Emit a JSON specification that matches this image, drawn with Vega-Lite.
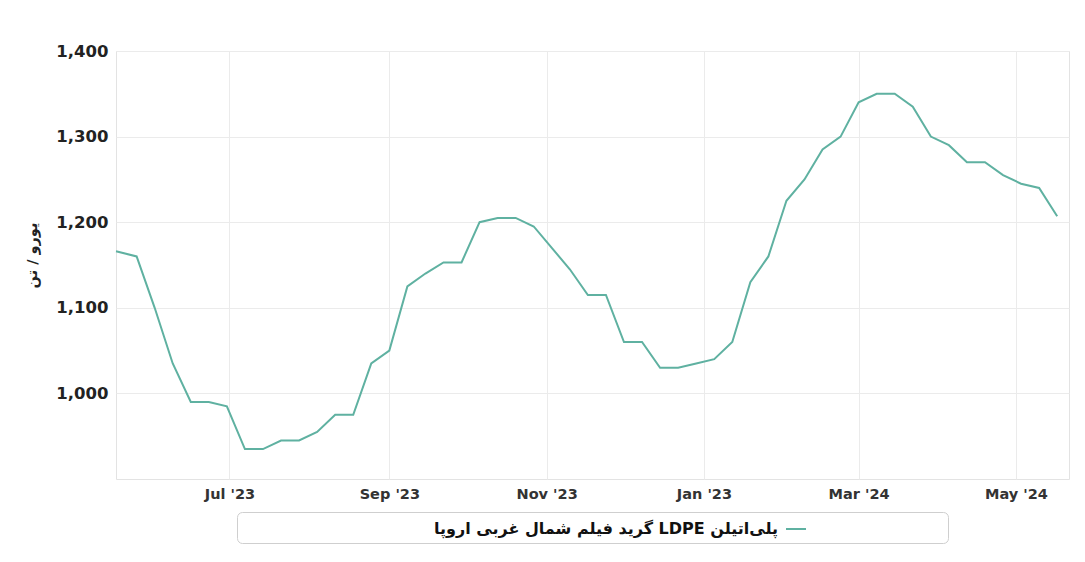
{
  "$schema": "https://vega.github.io/schema/vega-lite/v6.json",
  "width": 953,
  "height": 428,
  "autosize": {"type": "none"},
  "padding": {"left": 116, "top": 51, "right": 16, "bottom": 83},
  "background": "white",
  "data": {
    "values": [
      {"date": "2023-05-18", "price": 1166},
      {"date": "2023-05-26", "price": 1160},
      {"date": "2023-06-02", "price": 1100},
      {"date": "2023-06-09", "price": 1035},
      {"date": "2023-06-16", "price": 990},
      {"date": "2023-06-23", "price": 990},
      {"date": "2023-06-30", "price": 985},
      {"date": "2023-07-07", "price": 935},
      {"date": "2023-07-14", "price": 935},
      {"date": "2023-07-21", "price": 945},
      {"date": "2023-07-28", "price": 945},
      {"date": "2023-08-04", "price": 955},
      {"date": "2023-08-11", "price": 975},
      {"date": "2023-08-18", "price": 975},
      {"date": "2023-08-25", "price": 1035},
      {"date": "2023-09-01", "price": 1050},
      {"date": "2023-09-08", "price": 1125},
      {"date": "2023-09-15", "price": 1140},
      {"date": "2023-09-22", "price": 1153},
      {"date": "2023-09-29", "price": 1153},
      {"date": "2023-10-06", "price": 1200},
      {"date": "2023-10-13", "price": 1205},
      {"date": "2023-10-20", "price": 1205},
      {"date": "2023-10-27", "price": 1195},
      {"date": "2023-11-03", "price": 1170},
      {"date": "2023-11-10", "price": 1145},
      {"date": "2023-11-17", "price": 1115},
      {"date": "2023-11-24", "price": 1115},
      {"date": "2023-12-01", "price": 1060},
      {"date": "2023-12-08", "price": 1060},
      {"date": "2023-12-15", "price": 1030},
      {"date": "2023-12-22", "price": 1030},
      {"date": "2023-12-29", "price": 1035},
      {"date": "2024-01-05", "price": 1040},
      {"date": "2024-01-12", "price": 1060},
      {"date": "2024-01-19", "price": 1130},
      {"date": "2024-01-26", "price": 1160},
      {"date": "2024-02-02", "price": 1225},
      {"date": "2024-02-09", "price": 1250},
      {"date": "2024-02-16", "price": 1285},
      {"date": "2024-02-23", "price": 1300},
      {"date": "2024-03-01", "price": 1340},
      {"date": "2024-03-08", "price": 1350},
      {"date": "2024-03-15", "price": 1350},
      {"date": "2024-03-22", "price": 1335},
      {"date": "2024-03-29", "price": 1300},
      {"date": "2024-04-05", "price": 1290},
      {"date": "2024-04-12", "price": 1270},
      {"date": "2024-04-19", "price": 1270},
      {"date": "2024-04-26", "price": 1255},
      {"date": "2024-05-03", "price": 1245},
      {"date": "2024-05-10", "price": 1240},
      {"date": "2024-05-17", "price": 1207}
    ]
  },
  "mark": {"type": "line", "strokeWidth": 2},
  "encoding": {
    "x": {
      "field": "date",
      "type": "temporal",
      "scale": {
        "domain": [
          {"year": 2023, "month": 5, "date": 18, "utc": true},
          {"year": 2024, "month": 5, "date": 21, "hours": 14, "utc": true}
        ]
      },
      "axis": {
        "title": null,
        "tickCount": {"interval": "month", "step": 2},
        "labelExpr": "month(datum.value) == 0 ? \"Jan '23\" : timeFormat(datum.value, \"%b '%y\")",
        "labelFont": "DejaVu Sans",
        "labelFontSize": 14.5,
        "labelFontWeight": "bold",
        "labelColor": "#333333",
        "labelPadding": 8,
        "labelOverlap": false,
        "ticks": false,
        "domain": false,
        "gridColor": "#ebebeb"
      }
    },
    "y": {
      "field": "price",
      "type": "quantitative",
      "scale": {"domain": [900, 1400], "nice": false, "zero": false},
      "axis": {
        "values": [1000, 1100, 1200, 1300, 1400],
        "format": ",.0f",
        "labelFont": "DejaVu Sans",
        "labelFontSize": 16.5,
        "labelFontWeight": "bold",
        "labelColor": "#222222",
        "labelPadding": 8,
        "ticks": false,
        "domain": false,
        "gridColor": "#ebebeb",
        "title": "یورو / تن",
        "titleFont": "DejaVu Sans",
        "titleFontSize": 14.5,
        "titleFontWeight": "bold",
        "titleColor": "#222222",
        "titlePadding": 16,
        "titleY": 204
      }
    },
    "color": {
      "datum": "پلی‌اتیلن LDPE گرید فیلم شمال غربی اروپا",
      "scale": {"range": ["#5fb1a1"]},
      "legend": {
        "title": null,
        "orient": "none",
        "legendX": 121,
        "legendY": 461,
        "padding": 6,
        "strokeColor": "#cfcfcf",
        "fillColor": "white",
        "cornerRadius": 5,
        "symbolType": "M-1,0H1M14.2,0",
        "symbolSize": 400,
        "symbolStrokeWidth": 2,
        "symbolOffset": 542,
        "labelAlign": "right",
        "labelOffset": -29,
        "labelLimit": 2000,
        "labelFont": "DejaVu Sans",
        "labelFontSize": 16,
        "labelFontWeight": "bold",
        "labelColor": "#111111",
        "labelExpr": "'\u202b' + datum.label + '\u202c'"
      }
    }
  },
  "config": {
    "font": "DejaVu Sans",
    "view": {"stroke": "#e3e3e3"}
  }
}
